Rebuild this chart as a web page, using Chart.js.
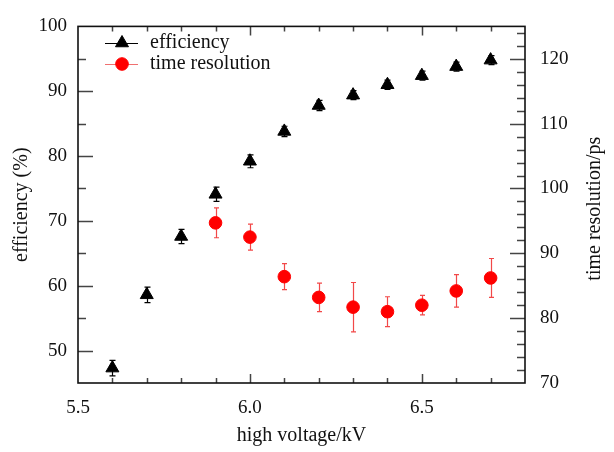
<!DOCTYPE html>
<html>
<head>
<meta charset="utf-8">
<title>efficiency and time resolution vs high voltage</title>
<script src="https://cdn.jsdelivr.net/npm/chart.js@4/dist/chart.umd.min.js"></script>
<style>
  html, body { margin: 0; padding: 0; background: #fff; }
  #wrap { width: 614px; height: 452px; }
</style>
</head>
<body>
<div id="wrap"><canvas id="chart" width="614" height="452"></canvas></div>
<script>
// data
const voltageEff = [5.6, 5.7, 5.8, 5.9, 6.0, 6.1, 6.2, 6.3, 6.4, 6.5, 6.6, 6.7];
const efficiency = [47.3, 58.6, 67.6, 74.1, 79.2, 83.8, 87.8, 89.4, 91.0, 92.4, 93.8, 94.8];
const efficiencyErr = [1.2, 1.2, 1.1, 1.1, 1.0, 0.8, 0.8, 0.7, 0.7, 0.7, 0.7, 0.7];

const voltageRes = [5.9, 6.0, 6.1, 6.2, 6.3, 6.4, 6.5, 6.6, 6.7];
const timeRes = [94.7, 92.5, 86.4, 83.2, 81.7, 81.0, 82.0, 84.2, 86.2];
const timeResErr = [2.3, 2.0, 2.0, 2.2, 3.8, 2.3, 1.5, 2.5, 3.0];

const FONT = "'Liberation Serif', 'Times New Roman', serif";

// error bars drawn under the markers, using the dataset's own y scale
const errorBars = {
  id: "errorBars",
  beforeDatasetsDraw(chart) {
    const ctx = chart.ctx;
    chart.data.datasets.forEach((ds, di) => {
      if (!ds.errors) return;
      const meta = chart.getDatasetMeta(di);
      const yScale = chart.scales[ds.yAxisID];
      ctx.save();
      ctx.strokeStyle = ds.errorColor;
      ctx.lineWidth = 1.2;
      ds.errors.forEach((e, i) => {
        const pt = meta.data[i];
        const v = ds.data[i].y;
        const top = yScale.getPixelForValue(v + e);
        const bot = yScale.getPixelForValue(v - e);
        const x = Math.round(pt.x) + 0.5;
        const cap = ds.capWidth / 2;
        ctx.beginPath();
        ctx.moveTo(x, top);
        ctx.lineTo(x, bot);
        ctx.moveTo(x - cap, top);
        ctx.lineTo(x + cap, top);
        ctx.moveTo(x - cap, bot);
        ctx.lineTo(x + cap, bot);
        ctx.stroke();
      });
      ctx.restore();
    });
  },
};

// frame, inward tick marks, right axis title and the legend box
const frameAndTicks = {
  id: "frameAndTicks",
  afterDraw(chart) {
    const { ctx, chartArea: a, scales } = chart;
    ctx.save();
    ctx.strokeStyle = "#444";
    ctx.lineWidth = 1.5;
    ctx.beginPath();
    // x axis: minor every 0.1, major every 0.5 (bottom and top)
    for (let i = 56; i <= 67; i++) {
      const px = Math.round(scales.x.getPixelForValue(i / 10)) + 0.5;
      const len = i % 5 === 0 ? 9 : 5;
      ctx.moveTo(px, a.bottom);
      ctx.lineTo(px, a.bottom - len);
      ctx.moveTo(px, a.top);
      ctx.lineTo(px, a.top + len);
    }
    // left axis: minor every 5, major every 10
    for (let v = 50; v < 100; v += 5) {
      const py = Math.round(scales.y.getPixelForValue(v)) + 0.5;
      const len = v % 10 === 0 ? 15 : 8;
      ctx.moveTo(a.left, py);
      ctx.lineTo(a.left + len, py);
    }
    // right axis: minor every 2, major every 10
    for (let v = 72; v <= 124; v += 2) {
      const py = Math.round(scales.y1.getPixelForValue(v)) + 0.5;
      const len = v % 10 === 0 ? 15 : 8;
      ctx.moveTo(a.right, py);
      ctx.lineTo(a.right - len, py);
    }
    ctx.stroke();

    // frame
    ctx.strokeStyle = "#111";
    ctx.lineWidth = 1.6;
    ctx.strokeRect(a.left, a.top, a.right - a.left, a.bottom - a.top);

    // right axis title, reading upwards
    ctx.fillStyle = "#111";
    ctx.font = "20px " + FONT;
    ctx.textAlign = "center";
    ctx.textBaseline = "middle";
    ctx.save();
    ctx.translate(595, (a.top + a.bottom) / 2 + 4);
    ctx.rotate(-Math.PI / 2);
    ctx.fillText("time resolution/ps", 0, 0);
    ctx.restore();

    // legend
    const rows = [
      { ds: chart.data.datasets[0], y: 43, line: "#000" },
      { ds: chart.data.datasets[1], y: 64, line: "#f07070" },
    ];
    ctx.textAlign = "left";
    rows.forEach((r) => {
      ctx.strokeStyle = r.line;
      ctx.lineWidth = 1.2;
      ctx.beginPath();
      ctx.moveTo(105, r.y + 0.5);
      ctx.lineTo(138, r.y + 0.5);
      ctx.stroke();
      ctx.fillStyle = r.ds.backgroundColor;
      ctx.strokeStyle = r.ds.borderColor;
      ctx.lineWidth = 1;
      Chart.helpers.drawPoint(ctx, {
        pointStyle: r.ds.pointStyle,
        radius: r.ds.pointRadius,
        rotation: 0,
        borderWidth: 1,
      }, 122, r.y);
      ctx.fillStyle = "#111";
      ctx.fillText(r.ds.label, 150, r.y);
    });
    ctx.restore();
  },
};

const ctx = document.getElementById("chart").getContext("2d");
const chart = new Chart(ctx, {
  type: "scatter",
  data: {
    datasets: [
      {
        label: "efficiency",
        data: voltageEff.map((x, i) => ({ x: x, y: efficiency[i] })),
        errors: efficiencyErr,
        errorColor: "#000",
        capWidth: 6,
        yAxisID: "y",
        pointStyle: "triangle",
        pointRadius: 7.5,
        backgroundColor: "#000",
        borderColor: "#000",
        borderWidth: 1,
      },
      {
        label: "time resolution",
        data: voltageRes.map((x, i) => ({ x: x, y: timeRes[i] })),
        errors: timeResErr,
        errorColor: "rgba(240, 40, 40, 0.85)",
        capWidth: 5,
        yAxisID: "y1",
        pointStyle: "circle",
        pointRadius: 6.3,
        backgroundColor: "#ff0000",
        borderColor: "#ff0000",
        borderWidth: 1,
      },
    ],
  },
  options: {
    responsive: false,
    devicePixelRatio: 1,
    animation: false,
    layout: { padding: { top: 15, left: 0, right: 0, bottom: 0 } },
    plugins: {
      legend: { display: false },
      tooltip: { enabled: false },
    },
    scales: {
      x: {
        type: "linear",
        position: "bottom",
        min: 5.5,
        max: 6.8,
        afterFit: (s) => { s.height = 69; },
        grid: { display: false, drawTicks: false },
        border: { display: false },
        ticks: {
          stepSize: 0.5,
          includeBounds: false,
          maxRotation: 0,
          padding: 14,
          color: "#111",
          font: { family: FONT, size: 19 },
          callback: (v) => v.toFixed(1),
        },
        title: {
          display: true,
          text: "high voltage/kV",
          color: "#111",
          font: { family: FONT, size: 20 },
          padding: { top: 0, bottom: 4 },
        },
      },
      y: {
        type: "linear",
        position: "left",
        min: 45,
        max: 100,
        afterFit: (s) => { s.width = 78; },
        grid: { display: false, drawTicks: false },
        border: { display: false },
        ticks: {
          stepSize: 10,
          includeBounds: false,
          padding: 11,
          color: "#111",
          font: { family: FONT, size: 19 },
        },
        title: {
          display: true,
          text: "efficiency (%)",
          color: "#111",
          font: { family: FONT, size: 20 },
          padding: { top: 10, bottom: 0 },
        },
      },
      y1: {
        type: "linear",
        position: "right",
        min: 70,
        max: 125,
        afterFit: (s) => { s.width = 89; },
        grid: { display: false, drawTicks: false },
        border: { display: false },
        ticks: {
          stepSize: 10,
          includeBounds: false,
          padding: 15,
          color: "#111",
          font: { family: FONT, size: 19 },
        },
      },
    },
  },
  plugins: [errorBars, frameAndTicks],
});
</script>
</body>
</html>
